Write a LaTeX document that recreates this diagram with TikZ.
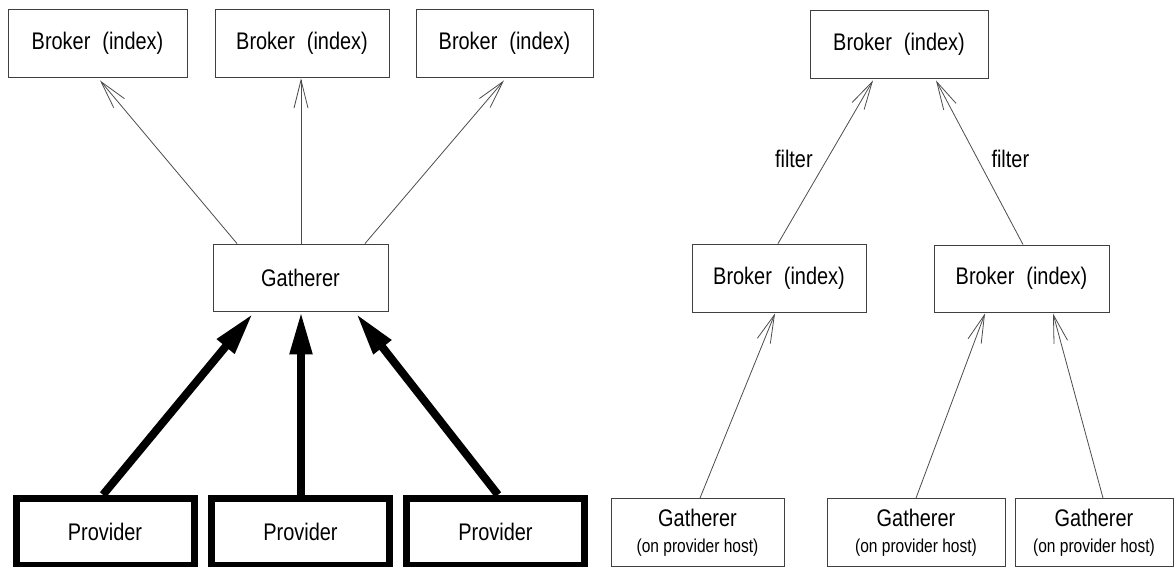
\documentclass[tikz,border=0pt]{standalone}
\usepackage{fontspec}
\setmainfont{Liberation Sans}[FakeStretch=0.83]
\usetikzlibrary{arrows.meta}
\newcommand{\bigtxt}{\fontsize{24}{28}\selectfont}
\newcommand{\smalltxt}{\fontsize{18.7}{22}\selectfont}
\newcommand{\brk}{Broker\hspace{0.5em}(index)}
\begin{document}
\begin{tikzpicture}[x=1pt,y=-1pt,
  box/.style={draw=black!75, line width=0.9pt, minimum height=68pt, inner sep=0pt, font=\bigtxt},
  prov/.style={draw=black, line width=7pt, minimum width=178pt, minimum height=67.5pt, inner sep=0pt, font=\bigtxt},
  gbox/.style={draw=black!75, line width=0.9pt, minimum height=68pt, inner sep=0pt, align=center, font=\bigtxt},
  thinarrow/.style={draw=black!70, line width=0.8pt, -{Straight Barb[length=28pt,width=14pt]}},
  thickarrow/.style={draw=black, line width=8pt, -{Triangle[length=43pt,width=21pt]}},
  lbl/.style={font=\bigtxt}]
\useasboundingbox (0,0) rectangle (1175,567);
% left part
\node[box, minimum width=179pt] (b1) at (97.5,43) {\brk};
\node[box, minimum width=174pt] (b2) at (302,43) {\brk};
\node[box, minimum width=177pt] (b3) at (504.5,43) {\brk};
\node[box, minimum width=175pt, minimum height=67pt] (gat) at (300.5,277.5) {Gatherer};
\node[prov] (p1) at (105,532) {Provider};
\node[prov] (p2) at (300.5,532) {Provider};
\node[prov] (p3) at (495.5,532) {Provider};
\draw[thinarrow] ([xshift=-63.5pt]gat.north) -- ([xshift=2.5pt,yshift=-3pt]b1.south);
\draw[thinarrow] ([xshift=0.5pt]gat.north) -- ([xshift=-1pt,yshift=-1pt]b2.south);
\draw[thinarrow] ([xshift=64.5pt]gat.north) -- ([xshift=-0.5pt,yshift=-3pt]b3.south);
\draw[thickarrow] ([xshift=-2pt]p1.north) -- ([xshift=-47.5pt,yshift=-2pt]gat.south);
\draw[thickarrow] ([xshift=0.5pt]p2.north) -- ([xshift=0.5pt]gat.south);
\draw[thickarrow] ([xshift=2.5pt]p3.north) -- ([xshift=55.5pt,yshift=-2pt]gat.south);
% right part
\node[box, minimum width=178pt] (bt) at (899,44) {\brk};
\node[box, minimum width=174pt] (bl) at (779,278) {\brk};
\node[box, minimum width=175pt, minimum height=67pt] (br) at (1021.5,278.5) {\brk};
\node[gbox, minimum width=173pt] (g1) at (697.5,532.5) {Gatherer\\[-2pt]{\smalltxt (on provider host)}};
\node[gbox, minimum width=178pt] (g2) at (916,532.5) {Gatherer\\[-2pt]{\smalltxt (on provider host)}};
\node[gbox, minimum width=158pt] (g3) at (1094,532.5) {Gatherer\\[-2pt]{\smalltxt (on provider host)}};
\draw[thinarrow] ([xshift=-1pt]bl.north) -- node[pos=0.52, left=11pt, lbl] (f1) {filter} ([xshift=-26pt,yshift=-2pt]bt.south);
\draw[thinarrow] ([xshift=1.5pt]br.north) -- node[pos=0.52, right=10pt, lbl] (f2) {filter} ([xshift=37pt,yshift=-2pt]bt.south);
\draw[thinarrow] ([xshift=2.5pt]g1.north) -- ([xshift=-4pt,yshift=-1pt]bl.south);
\draw[thinarrow] ([xshift=0pt]g2.north) -- ([xshift=-36.5pt,yshift=-1pt]br.south);
\draw[thinarrow] ([xshift=9pt]g3.north) -- ([xshift=31.5pt,yshift=-1pt]br.south);
\end{tikzpicture}
\end{document}
